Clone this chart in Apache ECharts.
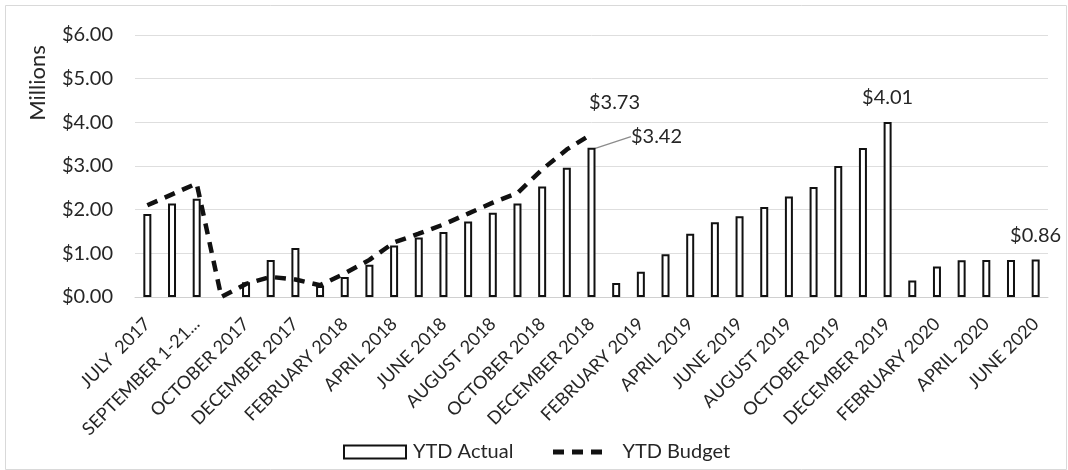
<!DOCTYPE html>
<html>
<head>
<meta charset="utf-8">
<script src="https://cdn.jsdelivr.net/npm/echarts@6/dist/echarts.min.js"></script>
<style>
  html, body { margin: 0; padding: 0; background: #fff; }
  #chart { width: 1068px; height: 470px; }
</style>
</head>
<body>
<div id="chart"></div>
<script>
// Reporting periods (month-end YTD snapshots)
const categories = [
  'JULY  2017', 'AUGUST 2017', 'SEPTEMBER 1-21, 2017', 'SEPTEMBER 22-30, 2017',
  'OCTOBER 2017', 'NOVEMBER 2017', 'DECEMBER 2017', 'JANUARY 2018',
  'FEBRUARY 2018', 'MARCH 2018', 'APRIL 2018', 'MAY 2018', 'JUNE 2018',
  'JULY 2018', 'AUGUST 2018', 'SEPTEMBER 2018', 'OCTOBER 2018', 'NOVEMBER 2018',
  'DECEMBER 2018', 'JANUARY 2019', 'FEBRUARY 2019', 'MARCH 2019', 'APRIL 2019',
  'MAY 2019', 'JUNE 2019', 'JULY 2019', 'AUGUST 2019', 'SEPTEMBER 2019',
  'OCTOBER 2019', 'NOVEMBER 2019', 'DECEMBER 2019', 'JANUARY 2020',
  'FEBRUARY 2020', 'MARCH 2020', 'APRIL 2020', 'MAY 2020', 'JUNE 2020'
];

// YTD actual, in millions of dollars
const ytdActual = [
  1.90, 2.14, 2.25, null, 0.34, 0.85, 1.12, 0.25, 0.46, 0.74,
  1.18, 1.36, 1.49, 1.73, 1.93, 2.14, 2.53, 2.96, 3.42, 0.32,
  0.58, 0.98, 1.45, 1.71, 1.85, 2.06, 2.30, 2.52, 3.00, 3.41,
  4.01, 0.38, 0.70, 0.84, 0.85, 0.85, 0.86
];

// YTD budget, in millions of dollars (tracked through Dec 2018)
const ytdBudget = [
  2.10, 2.35, 2.60, 0.00, 0.30, 0.46, 0.40, 0.27, 0.54, 0.85,
  1.25, 1.45, 1.66, 1.91, 2.16, 2.38, 2.92, 3.38, 3.73
];

// Points that carry a value label
const actualLabelIdx = [18, 30, 36];
const budgetLabelIdx = [18];
const calloutIdx = 18; // actual label pulled aside with a leader line

const yTicks = { min: 0, max: 6, interval: 1 };

const money = v => '$' + Number(v).toFixed(2);
const textColor = '#262626';
const font = 'Lato, "Open Sans", sans-serif';
const fs = 20;

const actualData = ytdActual.map((v, i) => {
  if (!actualLabelIdx.includes(i)) return v;
  const item = { value: v, label: { show: true } };
  if (i === calloutIdx) {
    item.label = { show: true, position: 'top', distance: 4 };
    item.labelLine = {
      show: true, smooth: 0.4, length2: 0,
      lineStyle: { color: '#8c8c8c', width: 1.3 }
    };
  }
  return item;
});

const budgetData = ytdBudget.map((v, i) => {
  if (!budgetLabelIdx.includes(i)) return v;
  return { value: v, label: { show: true, position: 'top', distance: 22, offset: [23, 0] } };
});

const chart = echarts.init(document.getElementById('chart'), null, { renderer: 'canvas' });

const legendText = { fontSize: fs, color: textColor, fontFamily: font };

chart.setOption({
  backgroundColor: '#fff',
  animation: false,
  textStyle: { fontFamily: font, color: textColor },
  graphic: [
    {
      type: 'rect', left: 3, top: 3,
      shape: { width: 1061, height: 464 },
      style: { fill: 'none', stroke: '#d9d9d9', lineWidth: 1 }
    },
    {
      type: 'text', x: 38, y: 83, rotation: Math.PI / 2,
      style: {
        text: 'Millions', fill: textColor, font: '22px ' + font,
        align: 'center', verticalAlign: 'middle'
      }
    }
  ],
  grid: { left: 135, right: 20, top: 35, bottom: 173 },
  legend: [
    {
      left: 343, top: 442, padding: 0,
      itemWidth: 62, itemHeight: 13,
      textStyle: Object.assign({ padding: [0, 0, 0, 2] }, legendText),
      data: [{ name: 'YTD Actual', icon: 'rect' }]
    },
    {
      left: 553, top: 442, padding: 0,
      itemWidth: 52, itemHeight: 5,
      textStyle: Object.assign({ padding: [0, 0, 0, 14] }, legendText),
      data: [{
        name: 'YTD Budget',
        icon: 'path://M0,0h11v5h-11zM19,0h11v5h-11zM38,0h11v5h-11z',
        itemStyle: { color: '#111', borderWidth: 0 }
      }]
    }
  ],
  xAxis: {
    type: 'category',
    data: categories,
    boundaryGap: true,
    axisLine: { lineStyle: { color: '#d0d0d0', width: 1 } },
    axisTick: { show: false },
    axisLabel: {
      interval: 1,
      rotate: 45,
      margin: 24,
      fontSize: 18,
      color: textColor,
      fontFamily: font,
      formatter: v => v.length > 17 ? v.slice(0, 14) + '...' : v
    }
  },
  yAxis: {
    type: 'value',
    min: yTicks.min, max: yTicks.max, interval: yTicks.interval,
    axisLine: { show: false },
    axisTick: { show: false },
    splitLine: { lineStyle: { color: '#dedede', width: 1 } },
    axisLabel: {
      fontSize: fs, color: textColor, margin: 22, fontFamily: font,
      formatter: money
    }
  },
  series: [
    {
      name: 'YTD Actual',
      type: 'bar',
      data: actualData,
      barWidth: 8,
      itemStyle: { color: '#ffffff', borderColor: '#111', borderWidth: 2 },
      label: {
        show: false, position: 'top', distance: 14,
        fontSize: fs, color: textColor, fontFamily: font,
        formatter: p => money(p.value)
      },
      labelLayout: p => (p.dataIndex === calloutIdx ? { dx: 65, dy: 3 } : {})
    },
    {
      name: 'YTD Budget',
      type: 'line',
      data: budgetData,
      symbol: 'circle',
      symbolSize: 0,
      lineStyle: { color: '#111', width: 4.5, type: [11, 8] },
      itemStyle: { color: '#111' },
      label: {
        show: false, fontSize: fs, color: textColor, fontFamily: font,
        formatter: p => money(p.value)
      },
      z: 3
    }
  ]
});
</script>
</body>
</html>
